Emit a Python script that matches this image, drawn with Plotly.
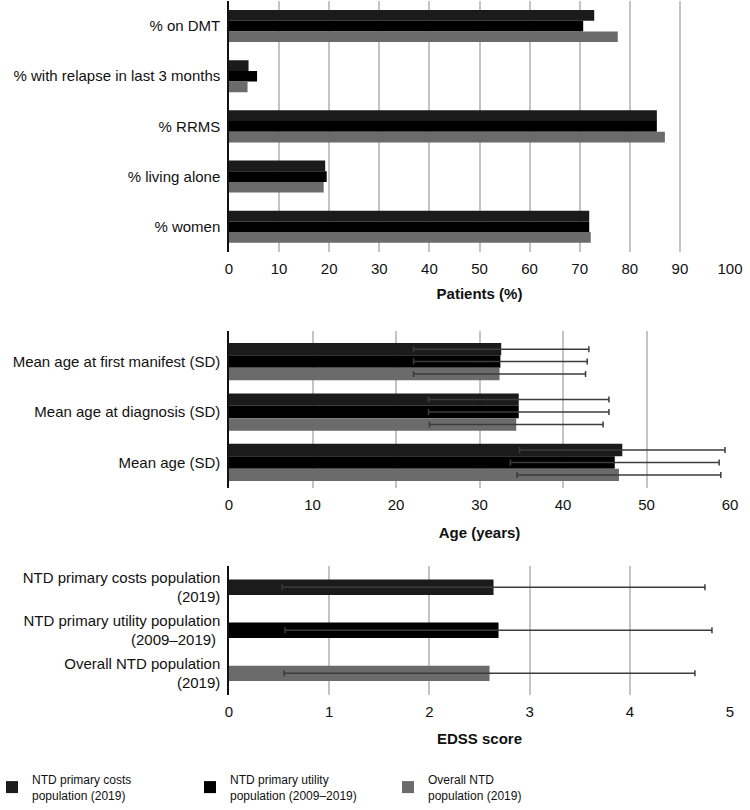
import plotly.graph_objects as go

# ---------------- data ----------------
series_names = ["NTD primary costs<br>population (2019)",
                "NTD primary utility<br>population (2009–2019)",
                "Overall NTD<br>population (2019)"]
series_colors = ["#1b1b1b", "#000000", "#6b6b6b"]

pct_categories = ["% on DMT", "% with relapse in last 3 months", "% RRMS",
                  "% living alone", "% women"]
pct_costs = [72.9, 3.9, 85.4, 19.2, 71.9]
pct_utility = [70.7, 5.6, 85.4, 19.5, 71.9]
pct_overall = [77.6, 3.7, 87.0, 18.9, 72.2]

age_categories = ["Mean age at first manifest (SD)", "Mean age at diagnosis (SD)",
                  "Mean age (SD)"]
age_costs = [32.6, 34.7, 47.1]
age_costs_sd = [10.5, 10.8, 12.3]
age_utility = [32.5, 34.7, 46.2]
age_utility_sd = [10.4, 10.8, 12.5]
age_overall = [32.4, 34.4, 46.7]
age_overall_sd = [10.3, 10.4, 12.2]

edss_categories = ["NTD primary costs population<br>(2019)",
                   "NTD primary utility population<br>(2009–2019) ",
                   "Overall NTD population<br>(2019)"]
edss_means = [2.64, 2.69, 2.60]
edss_sd = [2.11, 2.13, 2.05]

pct_ticks = [0, 10, 20, 30, 40, 50, 60, 70, 80, 90, 100]
age_ticks = [0, 10, 20, 30, 40, 50, 60]
edss_ticks = [0, 1, 2, 3, 4, 5]

# ---------------- figure ----------------
W, H = 750, 810
ML, MR, MT, MB = 229, 20, 0, 60
PH = H - MT - MB
PW = W - ML - MR

def py(px):
    return 1 - (px - MT) / PH

fig = go.Figure()
FONT = "Liberation Sans, Arial, sans-serif"
err_style = dict(type="data", symmetric=True, color="#3c3c3c", thickness=1.5, width=3)

w1 = 0.213
for vals, name, col, off in zip([pct_costs, pct_utility, pct_overall], series_names,
                                series_colors, [-1.5 * w1, -0.5 * w1, 0.5 * w1]):
    fig.add_trace(go.Bar(x=vals, y=pct_categories, orientation="h", name=name,
                         marker=dict(color=col, line=dict(width=0)), width=w1, offset=off,
                         xaxis="x", yaxis="y", legendgroup=name, showlegend=True))

w2 = 0.246
for vals, sd, name, col, off in zip([age_costs, age_utility, age_overall],
                                    [age_costs_sd, age_utility_sd, age_overall_sd],
                                    series_names, series_colors,
                                    [-1.5 * w2, -0.5 * w2, 0.5 * w2]):
    fig.add_trace(go.Bar(x=vals, y=age_categories, orientation="h", name=name,
                         marker=dict(color=col, line=dict(width=0)), width=w2, offset=off,
                         error_x=dict(array=sd, **err_style),
                         xaxis="x2", yaxis="y2", legendgroup=name, showlegend=False))

w3 = 0.357
for i, (name, col) in enumerate(zip(series_names, series_colors)):
    fig.add_trace(go.Bar(x=[edss_means[i]], y=[edss_categories[i]], orientation="h",
                         name=name, marker=dict(color=col, line=dict(width=0)),
                         width=w3, offset=-w3 / 2,
                         error_x=dict(array=[edss_sd[i]], **err_style),
                         xaxis="x3", yaxis="y3", legendgroup=name, showlegend=False))

xbase = dict(showgrid=True, gridcolor="#c4c4c4", gridwidth=1.5, zeroline=False,
             showline=False, ticks="outside", ticklen=3, tickcolor="rgba(0,0,0,0)",
             tickfont=dict(family=FONT, size=15, color="#111"), domain=[0, 1],
             automargin=False)
ybase = dict(type="category", showgrid=False, zeroline=False, showline=True,
             linecolor="#111", linewidth=1.5, ticks="outside", ticklen=4,
             tickcolor="rgba(0,0,0,0)", tickfont=dict(family=FONT, size=15, color="#111"),
             automargin=False)

def title(t, s=12):
    return dict(text="<b>" + t + "</b>", font=dict(family=FONT, size=15, color="#111"), standoff=s)

fig.update_layout(
    width=W, height=H,
    margin=dict(l=ML, r=MR, t=MT, b=MB),
    plot_bgcolor="white", paper_bgcolor="white",
    barmode="overlay",
    xaxis=dict(xbase, anchor="y", range=[0, 100], tickvals=pct_ticks, title=title("Patients (%)")),
    yaxis=dict(ybase, anchor="x", domain=[py(253.5), py(1)], categoryarray=pct_categories,
               range=[4.5, -0.5]),
    xaxis2=dict(xbase, anchor="y2", range=[0, 60], tickvals=age_ticks,
                title=title("Age (years)", 15)),
    yaxis2=dict(ybase, anchor="x2", domain=[py(491), py(333)], categoryarray=age_categories,
                range=[2.5, -0.61]),
    xaxis3=dict(xbase, anchor="y3", range=[0, 5.0], tickvals=edss_ticks, title=title("EDSS score", 14)),
    yaxis3=dict(ybase, anchor="x3", domain=[py(699.5), py(569.5)], categoryarray=edss_categories,
                range=[2.5, -0.5]),
    legend=dict(orientation="h", x=-ML / PW, xanchor="left", y=py(793), yanchor="middle",
                font=dict(family=FONT, size=12, color="#111"), indentation=-8,
                traceorder="normal", entrywidth=161, entrywidthmode="pixels"),
)

fig.write_html("out.html", config={"displayModeBar": False},
               post_script="document.body.style.margin='0';document.body.style.overflow='hidden';")
